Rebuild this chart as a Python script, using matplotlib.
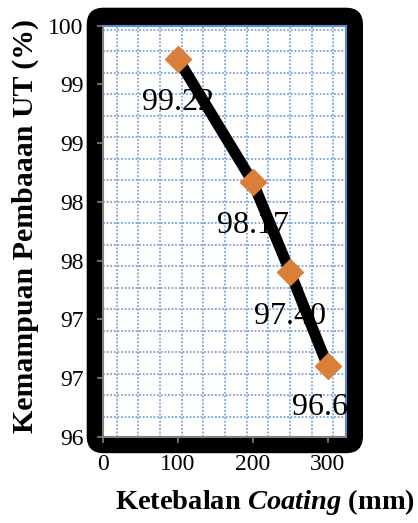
import math
import matplotlib
matplotlib.use("Agg")
import matplotlib.pyplot as plt
from matplotlib.patches import FancyBboxPatch
from matplotlib.ticker import FuncFormatter, MultipleLocator

plt.rcParams['font.family'] = ['Liberation Serif', 'DejaVu Serif']
plt.rcParams['mathtext.fontset'] = 'custom'
plt.rcParams['mathtext.it'] = 'Liberation Serif:italic:bold'
plt.rcParams['mathtext.rm'] = 'Liberation Serif:bold'

thickness = [100, 200, 250, 300]
ut_ability = [99.22, 98.17, 97.40, 96.6]
value_labels = ["99.22", "98.17", "97.40", "96.6"]
x_ticks = [0, 100, 200, 300]

W, H = 418, 523
fig = plt.figure(figsize=(W / 100, H / 100), dpi=100)

L, R, T, B = 102.7, 346, 25.7, 436.7
ax = fig.add_axes([L / W, 1 - B / H, (R - L) / W, (B - T) / H])

# black rounded frame behind plot area
bg = fig.add_axes([0, 0, 1, 1], zorder=-1)
bg.set_xlim(0, W)
bg.set_ylim(H, 0)
bg.axis('off')
pl, pr, pt, pb = 16, 17, 18, 16.5
bg.add_patch(FancyBboxPatch((L - pl, T - pt), (R - L) + pl + pr, (B - T) + pt + pb,
                            boxstyle="round,pad=0,rounding_size=17",
                            facecolor='black', edgecolor='none'))

ax.set_facecolor('white')
ax.set_xlim(0, 324.4)
ax.set_ylim(96, 99.5)

# dotted grid
grid_col = '#7AA5DA'
gx0, gdx = 18.7, 28.9
for k in range(11):
    ax.axvline(gx0 + k * gdx, color=grid_col, lw=1.3, ls=(0, (1, 1)), zorder=1)
gy0, gdy = 96.168, 0.1831
for k in range(19):
    ax.axhline(gy0 + k * gdy, color=grid_col, lw=1.3, ls=(0, (1, 1)), zorder=1)

ax.plot(thickness, ut_ability, color='black', lw=8, zorder=3, solid_capstyle='butt')
ax.plot(thickness, ut_ability, ls='none', marker='D', ms=13, color='#DA7F3A',
        mec='#DA7F3A', zorder=4)

offsets = [(0, -44), (0, -44), (0, -44), (-8, -41)]
for x, y, s, (dx, dy) in zip(thickness, ut_ability, value_labels, offsets):
    ax.annotate(s, (x, y), xytext=(dx * 0.72, dy * 0.72), textcoords='offset points',
                ha='center', va='center', fontsize=23, zorder=5)

ax.yaxis.set_major_locator(MultipleLocator(0.5))
ax.yaxis.set_major_formatter(FuncFormatter(lambda v, p: "%d" % math.floor(v + 0.5 + 1e-9)))
ax.set_xticks(x_ticks)
ax.tick_params(axis='both', direction='out', length=4.5, width=1.2, color='#808080',
               labelsize=17, pad=9)
ax.tick_params(axis='y', pad=9.5)
ax.tick_params(axis='x', pad=8)

for s in ['left', 'bottom']:
    ax.spines[s].set_color('#808080')
    ax.spines[s].set_linewidth(1.5)
for s in ['right', 'top']:
    ax.spines[s].set_color('#5B8BD0')
    ax.spines[s].set_linewidth(1.5)

fig.text(25 / W, 1 - 226 / H, "Kemampuan Pembaaan UT (%)", rotation=90,
         ha='center', va='center', fontsize=21.5, fontweight='bold')
fig.text(265 / W, 1 - 502 / H, r"Ketebalan $\mathit{Coating}$ (mm)",
         ha='center', va='center', fontsize=20.5, fontweight='bold')

fig.savefig("out.png", dpi=100)
